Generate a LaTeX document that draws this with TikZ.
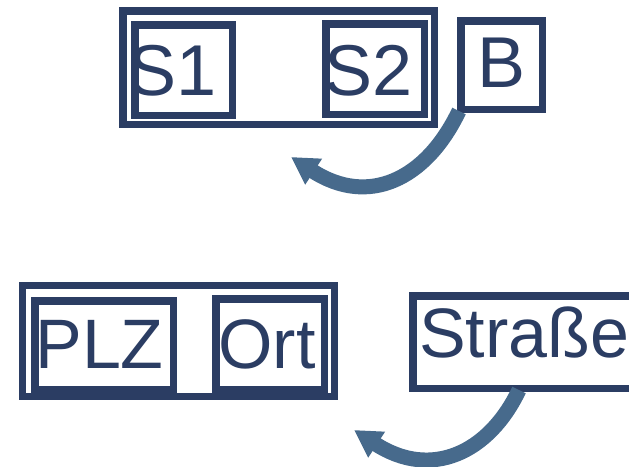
\documentclass[tikz,border=0pt]{standalone}
\usepackage{fontspec}
\setmainfont{Liberation Sans}
\usetikzlibrary{arrows.meta,calc}

\definecolor{navy}{HTML}{2B3D63}
\definecolor{steel}{HTML}{476A8C}

\tikzset{
  frame/.style={draw=navy, line width=7.5pt, inner sep=0pt},
  rim/.style={draw=navy, line width=1.5pt},
  big/.style={text=navy, inner sep=0pt, font=\fontsize{72}{78}\selectfont},
  bigger/.style={text=navy, inner sep=0pt, font=\fontsize{70}{76}\selectfont},
  turn/.style={draw=steel, line width=15pt, -{Triangle[width=29pt,length=27pt]}}
}

\begin{document}
\begin{tikzpicture}[x=1pt, y=-1pt]
            \useasboundingbox (0,0) rectangle (629,466);

            % upper group: two slots in one record, plus B
            \node at (278.5,67.5) [frame, minimum width=311.5, minimum height=113.5] (upper) {};
            \draw[rim] ($(upper.north west)+(6.5,6.5)$) rectangle ($(upper.south east)+(-6.5,-6.5)$);
            \node at (183.5,70) [frame, minimum width=97.5, minimum height=90.5] (s1) {};
            \node at (375,69) [frame, minimum width=98.5, minimum height=90.5] (s2) {};
            \node at (501.5,65) [frame, minimum width=81.5, minimum height=88.5] (b) {};

            \node at (173,95) [big, anchor=base] (s1text) {S1};
            \node at (369,95) [big, anchor=base] (s2text) {S2};
            \node at (502,87) [big, anchor=base] (btext) {B};

            % lower group
            \node at (178.5,341) [frame, line width=7pt, minimum width=312, minimum height=111] (lower) {};
            \draw[rim] ($(lower.north west)+(5.5,6)$) rectangle ($(lower.south east)+(-5.5,-6)$);
            \node at (104,345) [frame, minimum width=138.5, minimum height=88.5] (plz) {};
            \node at (270,344) [frame, minimum width=108.5, minimum height=90.5] (ort) {};
            \node at (531.5,342) [frame, minimum width=237.5, minimum height=92.5] (street) {};

            \node at (99.5,368) [bigger, anchor=base] (plztext) {PLZ};
            \node at (267,368) [bigger, anchor=base] (orttext) {Ort};
            \node at (419,357) [bigger, anchor=base west] (streettext) {Straße};

            % the two curved arrows
            \coordinate (upperend) at (291,157);
            \coordinate (lowerend) at (354,430);
            \draw[turn] ([xshift=2pt,yshift=2pt]b.south west) .. controls (426,180) and (368,207) .. (upperend);
            \draw[turn] ([xshift=110pt,yshift=2pt]street.south west) .. controls (489,453) and (431,480) .. (lowerend);
        \end{tikzpicture}
\end{document}
